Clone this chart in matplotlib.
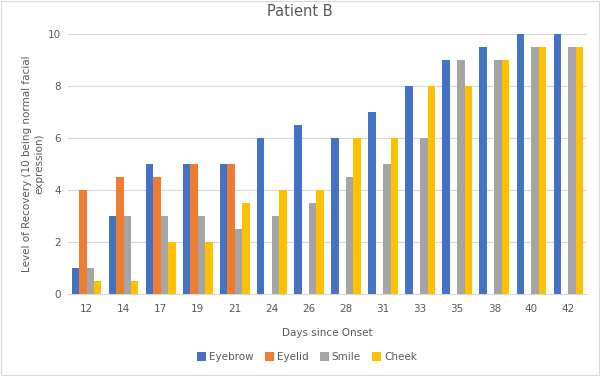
import matplotlib
matplotlib.use("Agg")
import matplotlib.pyplot as plt
import numpy as np
from matplotlib.patches import Rectangle

days = ["12", "14", "17", "19", "21", "24", "26", "28", "31", "33", "35", "38", "40", "42"]
eyebrow = [1, 3, 5, 5, 5, 6, 6.5, 6, 7, 8, 9, 9.5, 10, 10]
eyelid = [4, 4.5, 4.5, 5, 5, 0, 0, 0, 0, 0, 0, 0, 0, 0]
smile = [1, 3, 3, 3, 2.5, 3, 3.5, 4.5, 5, 6, 9, 9, 9.5, 9.5]
cheek = [0.5, 0.5, 2, 2, 3.5, 4, 4, 6, 6, 8, 8, 9, 9.5, 9.5]

series = [("Eyebrow", eyebrow, "#4472C4"), ("Eyelid", eyelid, "#ED7D31"),
          ("Smile", smile, "#A5A5A5"), ("Cheek", cheek, "#FFC000")]

text_color = "#595959"
fig = plt.figure(figsize=(6, 3.76), dpi=100)
ax = fig.add_axes([68/600, 1-294/376, (587-68)/600, (294-34)/376])

x = np.arange(len(days))
w = 0.2
for i, (name, vals, col) in enumerate(series):
    ax.bar(x + (i - 1.5) * w, vals, w, color=col, label=name, zorder=3)

ax.set_xlim(-0.5, len(days) - 0.5)
ax.set_ylim(0, 10)
ax.set_yticks([0, 2, 4, 6, 8, 10])
ax.set_xticks(x)
ax.set_xticklabels(days)
ax.grid(axis="y", color="#D9D9D9", linewidth=0.8, zorder=0)
for s in ["top", "right", "left"]:
    ax.spines[s].set_visible(False)
ax.spines["bottom"].set_color("#D9D9D9")
ax.tick_params(axis="both", length=0, colors=text_color, labelsize=7.5)
ax.tick_params(axis="x", pad=7)
ax.tick_params(axis="y", pad=5)

fig.text(0.5, 1 - 12/376, "Patient B", color=text_color, fontsize=10.5, ha="center", va="center")
ax.set_xlabel("Days since Onset", color=text_color, fontsize=7.5, labelpad=10)
ax.set_ylabel("Level of Recovery (10 being normal facial\nexpression)", color=text_color, fontsize=7.5)
ax.yaxis.set_label_coords((44 - 68) / 519, 0.5)

leg = fig.legend(loc="center", bbox_to_anchor=(307/600, 1-357/376), ncol=4, frameon=False,
                 fontsize=7.5, handlelength=0.85, handleheight=0.85, handletextpad=0.3, columnspacing=1.1)
for t in leg.get_texts():
    t.set_color(text_color)

fig.patches.append(Rectangle((0.002, 0.003), 0.996, 0.994, transform=fig.transFigure,
                             fill=False, edgecolor="#D9D9D9", linewidth=0.8))

fig.savefig("out.png", dpi=100)
